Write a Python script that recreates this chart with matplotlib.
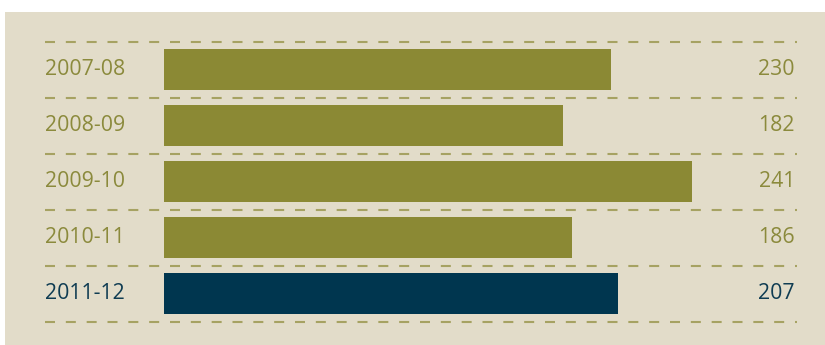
import matplotlib
matplotlib.use("Agg")
import matplotlib.pyplot as plt
from matplotlib.patches import Rectangle

# data
years = ["2007-08", "2008-09", "2009-10", "2010-11", "2011-12"]
bar_lengths = [204, 182, 241, 186, 207]   # drawn bar lengths (first bar is shorter than its label)
value_labels = ["230", "182", "241", "186", "207"]
highlight = [False, False, False, False, True]

olive = "#8b8934"
navy = "#00364f"
bg = "#e2dcc9"
dash_col = "#a6a262"

W, H = 825, 345
fig = plt.figure(figsize=(W / 100, H / 100), dpi=100, facecolor="white")

ax = fig.add_axes([0, 0, 1, 1])
ax.set_facecolor("none")
ax.axis("off")

# beige panel, drawn in figure coords behind everything
ax.add_patch(Rectangle((5 / W, 0), 1 - 5 / W, 1 - 12 / H, transform=fig.transFigure,
                       facecolor=bg, edgecolor="none", zorder=0, clip_on=False))

# pixel -> data mapping
k = 528 / 241.0          # px per unit
x0 = 164                 # bar start px
row_h = 56.0
first_c = 69.5
ax.set_xlim(-x0 / k, (W - x0) / k)
ax.set_ylim((H - first_c) / row_h, -first_c / row_h)

def px(x):
    return (x - x0) / k

ys = list(range(len(years)))
colors = [navy if h else olive for h in highlight]
ax.barh(ys, bar_lengths, height=41 / row_h, color=colors, zorder=2)

for i in range(len(years) + 1):
    ax.plot([px(45), px(797)], [i - 0.5, i - 0.5], color=dash_col, lw=1.5,
            ls=(0, (4.8, 5.2)), solid_capstyle="butt", zorder=1)

for y, yr, lab, h in zip(ys, years, value_labels, highlight):
    c = "#0f3c52" if h else "#8b8a3c"
    ax.text(px(45), y, yr, ha="left", va="center", fontsize=15.3, color=c, family="Open Sans")
    ax.text(px(795), y, lab, ha="right", va="center", fontsize=15.3, color=c, family="Open Sans")

fig.savefig("out.png", dpi=100, facecolor="white")
